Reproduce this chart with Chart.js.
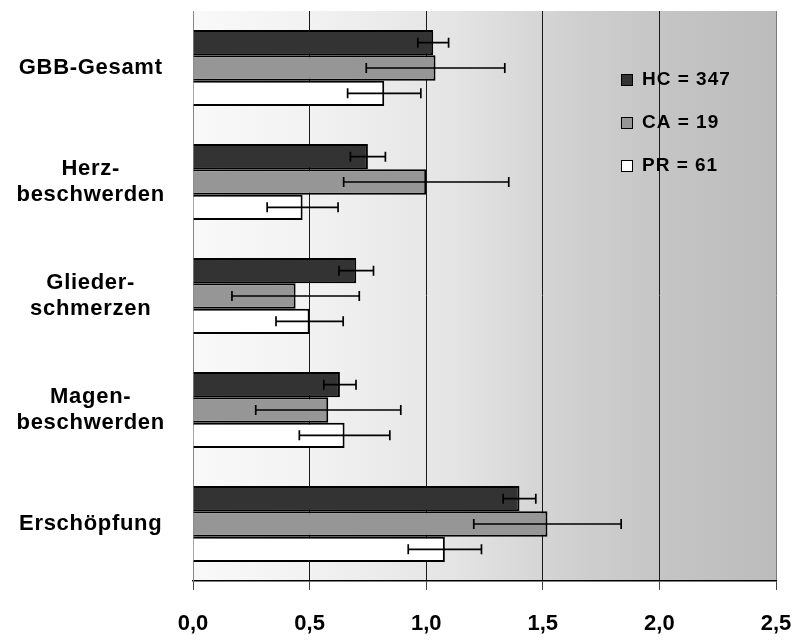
<!DOCTYPE html>
<html>
<head>
<meta charset="utf-8">
<script src="https://cdn.jsdelivr.net/npm/chart.js@4/dist/chart.umd.min.js"></script>
<style>
  html, body { margin: 0; padding: 0; background: #ffffff; }
  #wrap { width: 798px; height: 640px; }
</style>
</head>
<body>
<div id="wrap"><canvas id="chart" width="798" height="640"></canvas></div>
<script>
// Kategorien und Werte (Mittelwert + Standardfehler)
const categories = [
    'GBB-Gesamt',
    ['Herz-', 'beschwerden'],
    ['Glieder-', 'schmerzen'],
    ['Magen-', 'beschwerden'],
    'Erschöpfung'
];
const seriesNames = ['HC = 347', 'CA = 19', 'PR = 61'];
const hcValues = [1.03, 0.75, 0.70, 0.63, 1.40];
const caValues = [1.04, 1.00, 0.44, 0.58, 1.52];
const prValues = [0.82, 0.47, 0.50, 0.65, 1.08];
const hcErrors = [0.066, 0.075, 0.074, 0.069, 0.07];
const caErrors = [0.297, 0.354, 0.273, 0.311, 0.316];
const prErrors = [0.157, 0.152, 0.144, 0.194, 0.157];
const xTicks = [0, 0.5, 1.0, 1.5, 2.0, 2.5];

const FONT = "'Liberation Sans', Arial, sans-serif";

// Hintergrund-Verlauf im Plotbereich
const bgPlugin = {
    id: 'plotBackground',
    beforeDraw(chart) {
        const a = chart.chartArea;
        const ctx = chart.ctx;
        ctx.letterSpacing = '0px';
        const g = ctx.createLinearGradient(a.left, 0, a.right, 0);
        g.addColorStop(0, '#f9f9f9');
        g.addColorStop(0.2, '#f2f2f2');
        g.addColorStop(0.45, '#e4e4e4');
        g.addColorStop(0.65, '#d0d0d0');
        g.addColorStop(0.82, '#c4c4c4');
        g.addColorStop(1, '#bcbcbc');
        ctx.save();
        ctx.fillStyle = g;
        ctx.fillRect(a.left, a.top, a.right - a.left, a.bottom - a.top);
        ctx.restore();
    }
};

// Fehlerbalken; danach leichte Sperrung für die Kategorienbeschriftung (ticks.z = 1)
const errorBarPlugin = {
    id: 'errorBars',
    afterDatasetsDraw(chart) {
        const ctx = chart.ctx;
        const xScale = chart.scales.x;
        ctx.save();
        ctx.strokeStyle = '#000';
        ctx.lineWidth = 1.7;
        chart.data.datasets.forEach((ds, i) => {
            const meta = chart.getDatasetMeta(i);
            meta.data.forEach((bar, j) => {
                const v = ds.data[j];
                const e = ds.errors[j];
                const x1 = xScale.getPixelForValue(v - e);
                const x2 = xScale.getPixelForValue(v + e);
                const y = bar.y;
                ctx.beginPath();
                ctx.moveTo(x1, y); ctx.lineTo(x2, y);
                ctx.moveTo(x1, y - 5); ctx.lineTo(x1, y + 5);
                ctx.moveTo(x2, y - 5); ctx.lineTo(x2, y + 5);
                ctx.stroke();
            });
        });
        ctx.restore();
        ctx.letterSpacing = '0.7px';
    }
};

// Legende innerhalb des Plotbereichs
const legendPlugin = {
    id: 'innerLegend',
    afterDraw(chart) {
        const ctx = chart.ctx;
        const a = chart.chartArea;
        const x0 = a.left + 428;
        ctx.save();
        ctx.font = 'bold 19px ' + FONT;
        ctx.letterSpacing = '1px';
        ctx.textBaseline = 'middle';
        chart.data.datasets.forEach((ds, i) => {
            const y = a.top + 69 + i * 43;
            ctx.fillStyle = ds.backgroundColor;
            ctx.fillRect(x0, y - 5.5, 11, 11);
            ctx.strokeStyle = '#000';
            ctx.lineWidth = 1;
            ctx.strokeRect(x0 + 0.5, y - 5.5, 11, 11);
            ctx.fillStyle = '#000';
            ctx.fillText(ds.label, x0 + 21, y);
        });
        ctx.restore();
        ctx.letterSpacing = '0px';
    }
};

const ctx = document.getElementById('chart').getContext('2d');
new Chart(ctx, {
    type: 'bar',
    data: {
        labels: categories,
        datasets: [
            { label: seriesNames[0], data: hcValues, errors: hcErrors, backgroundColor: '#333333' },
            { label: seriesNames[1], data: caValues, errors: caErrors, backgroundColor: '#969696' },
            { label: seriesNames[2], data: prValues, errors: prErrors, backgroundColor: '#ffffff' }
        ]
    },
    options: {
        indexAxis: 'y',
        responsive: false,
        animation: false,
        layout: { padding: { top: 11, right: 22, left: 0, bottom: 0 } },
        datasets: {
            bar: {
                borderColor: '#000',
                borderWidth: 2,
                categoryPercentage: 0.667,
                barPercentage: 1
            }
        },
        plugins: {
            legend: { display: false },
            tooltip: { enabled: false }
        },
        scales: {
            x: {
                min: 0,
                max: 2.5,
                afterBuildTicks(scale) {
                    scale.ticks = xTicks.map(v => ({ value: v }));
                },
                afterFit(scale) {
                    scale.height = 59;
                    scale.paddingLeft = 0;
                    scale.paddingRight = 0;
                },
                ticks: {
                    color: '#000',
                    font: { family: FONT, size: 22, weight: 'bold' },
                    padding: 21,
                    callback: v => v.toFixed(1).replace('.', ',')
                },
                grid: {
                    color: c => (c.tick && (c.tick.value === 2.5 || c.tick.value === 0)) ? '#7a7a7a' : '#1a1a1a',
                    lineWidth: 1,
                    drawTicks: true,
                    tickLength: 9,
                    tickColor: '#444'
                },
                border: { display: true, color: '#000', width: 1.5 }
            },
            y: {
                afterFit(scale) {
                    scale.width = 193;
                    scale.paddingTop = 0;
                    scale.paddingBottom = 0;
                },
                ticks: {
                    z: 1,
                    color: '#000',
                    crossAlign: 'center',
                    padding: 24,
                    font: { family: FONT, size: 22, weight: 'bold', lineHeight: 1.2 }
                },
                grid: { display: false },
                border: { display: true, color: '#888', width: 1 }
            }
        }
    },
    plugins: [bgPlugin, errorBarPlugin, legendPlugin]
});
</script>
</body>
</html>
